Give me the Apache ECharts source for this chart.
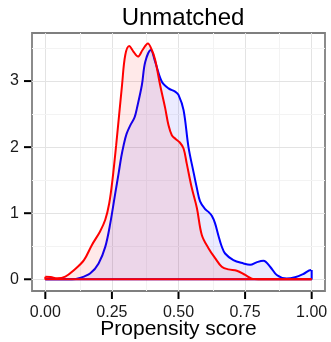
<!DOCTYPE html>
<html>
<head>
<meta charset="utf-8">
<script src="https://cdn.jsdelivr.net/npm/echarts@6/dist/echarts.min.js"></script>
<style>html,body{margin:0;padding:0;background:#fff;}#c{width:331px;height:342px;}</style>
</head>
<body>
<div id="c"></div>
<script>
// ---- data ----
var titleText = 'Unmatched';
var xAxisTitle = 'Propensity score';
var xTickValues = [0, 0.25, 0.5, 0.75, 1];
var xTickLabels = ['0.00', '0.25', '0.50', '0.75', '1.00'];
var yTickValues = [0, 1, 2, 3];
var yTickLabels = ['0', '1', '2', '3'];
var xMinorGrid = [0.125, 0.375, 0.625, 0.875];
var yMinorGrid = [0.5, 1.5, 2.5, 3.5];

var redX = [0.00, 0.02, 0.045, 0.075, 0.105, 0.145, 0.175, 0.205, 0.225, 0.24, 0.252, 0.266, 0.288, 0.30, 0.315, 0.33, 0.348, 0.365, 0.385, 0.40, 0.4125, 0.431, 0.45, 0.4625, 0.475, 0.49, 0.505, 0.519, 0.531, 0.55, 0.569, 0.5875, 0.6125, 0.6375, 0.6625, 0.6875, 0.719, 0.75, 0.775, 0.80, 0.9, 1.0];
var redY = [0.04, 0.035, 0.015, 0.04, 0.13, 0.29, 0.52, 0.72, 0.90, 1.15, 1.5, 2.03, 2.94, 3.39, 3.53, 3.45, 3.37, 3.47, 3.57, 3.47, 3.32, 2.94, 2.59, 2.33, 2.18, 2.12, 2.07, 1.98, 1.75, 1.38, 1.08, 0.67, 0.47, 0.32, 0.19, 0.15, 0.13, 0.065, 0.01, 0.0, 0.0, 0.0];

var blueX = [0.00, 0.10, 0.13, 0.169, 0.20, 0.225, 0.244, 0.2625, 0.275, 0.285, 0.294, 0.305, 0.319, 0.335, 0.344, 0.3625, 0.375, 0.396, 0.4125, 0.4375, 0.4625, 0.4875, 0.50, 0.519, 0.5375, 0.556, 0.569, 0.581, 0.60, 0.6125, 0.625, 0.637, 0.65, 0.662, 0.675, 0.706, 0.744, 0.769, 0.795, 0.819, 0.844, 0.869, 0.906, 0.9375, 0.969, 0.9975, 1.0];
var blueY = [0.0, 0.0, 0.02, 0.09, 0.24, 0.49, 0.85, 1.3, 1.6, 1.85, 2.03, 2.2, 2.33, 2.45, 2.59, 2.94, 3.29, 3.47, 3.29, 2.99, 2.89, 2.84, 2.79, 2.56, 2.0, 1.63, 1.38, 1.18, 1.06, 1.02, 0.96, 0.85, 0.66, 0.5, 0.39, 0.29, 0.24, 0.22, 0.26, 0.28, 0.19, 0.065, 0.01, 0.03, 0.08, 0.14, 0.14];

function pairs(xs, ys) { return xs.map(function (x, i) { return [x, ys[i]]; }); }

var FONT = '"Liberation Sans", Arial, sans-serif';
var X_MIN = -0.05, X_MAX = 1.05, Y_MIN = -0.1775, Y_MAX = 3.7275;
var chart = echarts.init(document.getElementById('c'), null, { renderer: 'canvas' });

var gridLines = [];
xTickValues.forEach(function (v) { gridLines.push({ xAxis: v, lineStyle: { color: '#e3e3e3', width: 1, type: 'solid' } }); });
xMinorGrid.forEach(function (v) { gridLines.push({ xAxis: v, lineStyle: { color: '#f3f3f3', width: 1, type: 'solid' } }); });
yTickValues.forEach(function (v) { gridLines.push({ yAxis: v, lineStyle: { color: '#e3e3e3', width: 1, type: 'solid' } }); });
yMinorGrid.forEach(function (v) { gridLines.push({ yAxis: v, lineStyle: { color: '#f3f3f3', width: 1, type: 'solid' } }); });

var lastBlue = blueX.length - 1;

chart.setOption({
  animation: false,
  backgroundColor: '#ffffff',
  title: {
    text: titleText, left: 178, textAlign: 'center', top: 1,
    textStyle: { fontFamily: FONT, fontSize: 24, fontWeight: 'normal', color: '#000' }
  },
  grid: { left: 32, right: 6, top: 33, bottom: 51, show: true, borderColor: '#7f7f7f', borderWidth: 1.8, backgroundColor: 'transparent', containLabel: false, outerBoundsMode: 'none' },
  xAxis: {
    type: 'value', min: X_MIN, max: X_MAX,
    name: xAxisTitle, nameLocation: 'middle', nameGap: 28, nameMoveOverlap: false,
    nameTextStyle: { fontFamily: FONT, fontSize: 21, color: '#000' },
    axisLine: { show: false },
    splitLine: { show: false },
    axisTick: { show: false },
    axisLabel: {
      customValues: xTickValues, margin: 14,
      fontFamily: FONT, fontSize: 16, color: '#1a1a1a',
      formatter: function (v) { var i = xTickValues.indexOf(v); return i >= 0 ? xTickLabels[i] : ''; }
    }
  },
  yAxis: {
    type: 'value', min: Y_MIN, max: Y_MAX,
    axisLine: { show: false },
    splitLine: { show: false },
    axisTick: { show: false },
    axisLabel: {
      customValues: yTickValues, margin: 13,
      fontFamily: FONT, fontSize: 16, color: '#1a1a1a',
      formatter: function (v) { var i = yTickValues.indexOf(v); return i >= 0 ? yTickLabels[i] : ''; }
    }
  },
  series: [
    {
      type: 'line', data: [], z: 0, silent: true,
      markLine: { silent: true, z: 0, symbol: 'none', label: { show: false }, animation: false, lineStyle: { type: 'solid' }, data: gridLines }
    },
    {
      name: 'blue', type: 'line', z: 2, smooth: 0.35, showSymbol: false,
      data: pairs(blueX, blueY),
      lineStyle: { color: '#0000ff', width: 2 },
      areaStyle: { color: 'rgba(0,0,255,0.11)', origin: 0 }
    },
    {
      name: 'blueEdge', type: 'line', z: 3, showSymbol: false,
      data: [[0, 0], [1, 0], [1, blueY[lastBlue]]],
      lineStyle: { color: '#0000ff', width: 2 }
    },
    {
      name: 'red', type: 'line', z: 4, smooth: 0.35, showSymbol: false,
      data: pairs(redX, redY),
      lineStyle: { color: '#ff0000', width: 2 },
      areaStyle: { color: 'rgba(255,0,0,0.12)', origin: 0 }
    },
    {
      name: 'redEdge', type: 'line', z: 5, showSymbol: false,
      data: [[0, redY[0]], [0, 0], [1, 0]],
      lineStyle: { color: '#ff0000', width: 2 }
    }
  ]
});

// tick marks placed through the axes' own scales
var TICK_LEN = 7;
var xb = chart.convertToPixel({ yAxisIndex: 0 }, Y_MIN);
var yl = chart.convertToPixel({ xAxisIndex: 0 }, X_MIN);
var ticks = [];
xTickValues.forEach(function (v) {
  var px = chart.convertToPixel({ xAxisIndex: 0 }, v);
  ticks.push({ type: 'line', silent: true, z: 10, shape: { x1: px, y1: xb + 1, x2: px, y2: xb + 1 + TICK_LEN }, style: { stroke: '#000', lineWidth: 2 } });
});
yTickValues.forEach(function (v) {
  var py = chart.convertToPixel({ yAxisIndex: 0 }, v);
  ticks.push({ type: 'line', silent: true, z: 10, shape: { x1: yl - 1, y1: py, x2: yl - 1 - TICK_LEN, y2: py }, style: { stroke: '#000', lineWidth: 2 } });
});
chart.setOption({ graphic: { elements: ticks } });
</script>
</body>
</html>
